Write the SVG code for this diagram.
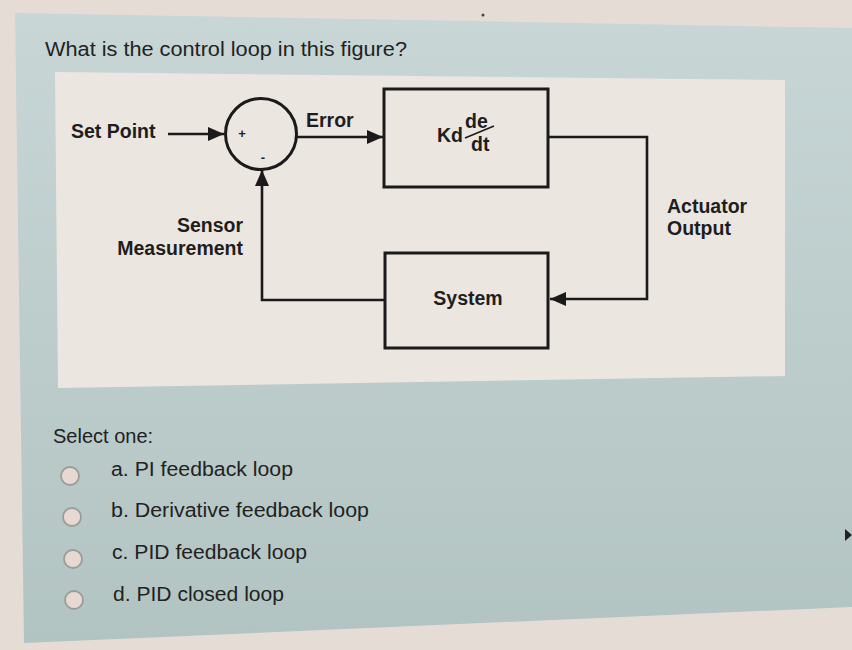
<svg xmlns="http://www.w3.org/2000/svg" width="852" height="650" viewBox="0 0 852 650">
  <defs>
    <linearGradient id="panelGrad" x1="0" y1="0" x2="0" y2="1">
      <stop offset="0" stop-color="#c8d6d6"/>
      <stop offset="1" stop-color="#b2c4c2"/>
    </linearGradient>
    <marker id="arrow" markerUnits="userSpaceOnUse" markerWidth="18" markerHeight="14" refX="16" refY="7" orient="auto">
      <path d="M0,0 L16,7 L0,14 Z" fill="#1a1a1a"/>
    </marker>
    <style>
      .dlabel { font-family: "Liberation Sans", Arial, sans-serif; font-weight: bold; font-size: 19.5px; fill: #1e1e1e; }
      .qtext { font-family: "Liberation Sans", Arial, sans-serif; font-size: 20px; fill: #222; }
      .box { fill: none; stroke: #1a1a1a; stroke-width: 3; }
      .conn { fill: none; stroke: #1a1a1a; stroke-width: 2.6; }
      .radio { fill: #e8d8d2; stroke: #9a9d97; stroke-width: 1.8; }
    </style>
  </defs>

  <!-- photo background -->
  <rect x="0" y="0" width="852" height="650" fill="#e6dcd6"/>
  <polygon points="15,13 852,28 852,607 24,643" fill="url(#panelGrad)"/>
  <polygon points="55,72 785,80 785,376 58,388" fill="#ece6e0"/>
  <circle cx="483" cy="15" r="1.5" fill="#444"/>
  <polygon points="845,529 852,535 845,541" fill="#222"/>

  <text class="qtext" x="45" y="56" textLength="362" lengthAdjust="spacingAndGlyphs">What is the control loop in this figure?</text>

  <!-- nodes -->
  <g id="summing-junction">
    <circle cx="261" cy="134" r="35.5" fill="none" stroke="#1a1a1a" stroke-width="3"/>
    <text class="dlabel" x="242" y="138" font-size="13" text-anchor="middle" style="font-size:13px">+</text>
    <text class="dlabel" x="263" y="162" text-anchor="middle" style="font-size:13px">-</text>
  </g>

  <g id="derivative-block">
    <rect class="box" x="384" y="89" width="164" height="98"/>
    <text class="dlabel" x="437" y="142">Kd</text>
    <text class="dlabel" x="465" y="128">de</text>
    <line x1="465" y1="138" x2="494" y2="126" stroke="#1a1a1a" stroke-width="1.5"/>
    <text class="dlabel" x="471" y="151">dt</text>
  </g>

  <g id="system-block">
    <rect class="box" x="385" y="253" width="163" height="95"/>
    <text class="dlabel" x="468" y="305" text-anchor="middle">System</text>
  </g>

  <g id="labels">
    <text class="dlabel" x="71" y="138">Set Point</text>
    <text class="dlabel" x="306" y="127">Error</text>
    <text class="dlabel" x="243" y="232" text-anchor="end">Sensor</text>
    <text class="dlabel" x="243" y="255" text-anchor="end">Measurement</text>
    <text class="dlabel" x="667" y="213">Actuator</text>
    <text class="dlabel" x="667" y="235">Output</text>
  </g>

  <!-- connectors -->
  <g id="connectors">
    <line class="conn" x1="168" y1="134" x2="224" y2="134" marker-end="url(#arrow)"/>
    <line class="conn" x1="297" y1="137" x2="383" y2="137" marker-end="url(#arrow)"/>
    <path class="conn" d="M548,137 H647 V299 H550" marker-end="url(#arrow)"/>
    <path class="conn" d="M385,300 H262 V170" marker-end="url(#arrow)"/>
  </g>

  <!-- answer choices -->
  <g id="choices">
    <text class="qtext" x="53" y="443">Select one:</text>
    <circle class="radio" cx="70" cy="476" r="9"/>
    <circle class="radio" cx="72" cy="517" r="9"/>
    <circle class="radio" cx="73" cy="559" r="9"/>
    <circle class="radio" cx="74" cy="600" r="9"/>
    <text class="qtext" x="111" y="476" textLength="182" lengthAdjust="spacingAndGlyphs">a. PI feedback loop</text>
    <text class="qtext" x="111" y="517" textLength="258" lengthAdjust="spacingAndGlyphs">b. Derivative feedback loop</text>
    <text class="qtext" x="112" y="559" textLength="195" lengthAdjust="spacingAndGlyphs">c. PID feedback loop</text>
    <text class="qtext" x="113" y="601" textLength="171" lengthAdjust="spacingAndGlyphs">d. PID closed loop</text>
  </g>
</svg>
